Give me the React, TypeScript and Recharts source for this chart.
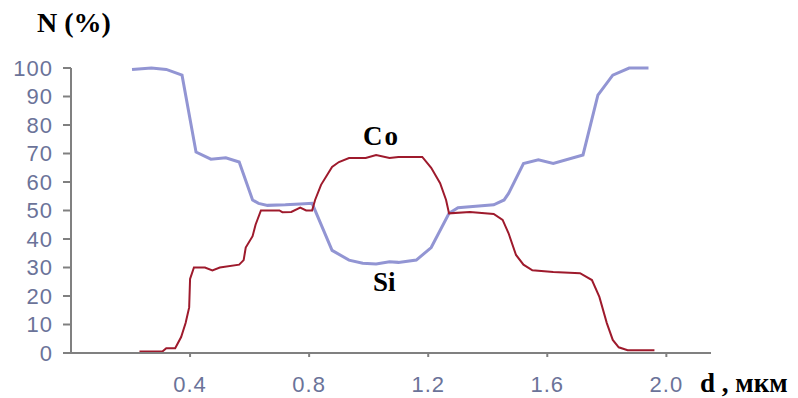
import * as React from 'react';
import { LineChart, Line, XAxis, YAxis } from 'recharts';

// Si profile (light blue)
const siDepth = [0.205, 0.27, 0.32, 0.373, 0.42, 0.47, 0.52, 0.565, 0.61, 0.63, 0.66, 0.72, 0.77, 0.81, 0.877, 0.934, 0.98, 1.025, 1.07, 1.1, 1.16, 1.21, 1.27, 1.3, 1.36, 1.42, 1.455, 1.47, 1.52, 1.57, 1.62, 1.72, 1.77, 1.82, 1.875, 1.94];
const siValues = [99.5, 100, 99.5, 97.5, 70.5, 68, 68.5, 67, 53.7, 52.5, 51.8, 52, 52.3, 52.5, 36, 32.6, 31.5, 31.2, 32, 31.8, 32.6, 37, 49, 51, 51.5, 52, 53.7, 56, 66.5, 67.8, 66.5, 69.5, 90.5, 97.5, 100, 100];

// Co profile (dark red)
const coDepth = [0.23, 0.307, 0.32, 0.35, 0.37, 0.385, 0.397, 0.4, 0.413, 0.45, 0.475, 0.5, 0.565, 0.58, 0.587, 0.61, 0.62, 0.638, 0.7, 0.71, 0.74, 0.77, 0.79, 0.81, 0.82, 0.84, 0.877, 0.9, 0.934, 0.99, 1.025, 1.07, 1.1, 1.18, 1.21, 1.24, 1.26, 1.27, 1.34, 1.42, 1.45, 1.47, 1.495, 1.52, 1.55, 1.62, 1.71, 1.75, 1.775, 1.8, 1.82, 1.84, 1.87, 1.96];
const coValues = [0.5, 0.5, 1.7, 1.7, 5.6, 10.5, 16, 26, 30, 30, 29, 30, 31, 32.6, 37, 41, 45, 50, 50, 49.4, 49.5, 51, 50, 50, 53.7, 59, 65.3, 67, 68.4, 68.4, 69.5, 68.4, 68.8, 68.8, 65, 59.6, 53.7, 49, 49.5, 48.8, 46.7, 42, 34.4, 31, 29, 28.4, 28, 25.6, 19.7, 10.5, 4.6, 2, 1, 1];

const xTicks = [0.4, 0.8, 1.2, 1.6, 2.0];
const yTicks = [0, 10, 20, 30, 40, 50, 60, 70, 80, 90, 100];

const siData = siDepth.map((d, i) => ({ d, v: siValues[i] }));
const coData = coDepth.map((d, i) => ({ d, v: coValues[i] }));

const serif: React.CSSProperties = {
	position: 'absolute',
	fontFamily: '"Liberation Serif", "Times New Roman", serif',
	fontWeight: 'bold',
	lineHeight: 1,
	color: '#000',
	whiteSpace: 'nowrap',
};

const tickStyle = { fill: '#6b7399', fontSize: 22, letterSpacing: 1, fontFamily: '"Liberation Sans", Arial, sans-serif' };

export default function App() {
	return (
		<div style={{ position: 'absolute', left: 0, top: 0, width: 798, height: 398, overflow: 'hidden', background: '#fff' }}>
			<LineChart width={798} height={398} margin={{ top: 68, right: 87, bottom: 0, left: 0 }}>
				<XAxis
					type='number'
					dataKey='d'
					domain={[0, 2.15]}
					ticks={xTicks}
					interval={0}
					tickFormatter={(v: number) => v.toFixed(1)}
					height={45}
					stroke='#808080'
					strokeWidth={2}
					tickSize={4}
					tickMargin={19}
					tick={tickStyle}
				/>
				<YAxis
					type='number'
					domain={[0, 100]}
					ticks={yTicks}
					interval={0}
					width={71}
					stroke='#808080'
					strokeWidth={2}
					tickSize={8}
					tickMargin={10}
					tick={tickStyle}
				/>
				<Line data={siData} dataKey='v' type='linear' stroke='#9295d3' strokeWidth={3} dot={false} activeDot={false} isAnimationActive={false} />
				<Line data={coData} dataKey='v' type='linear' stroke='#9e1a2c' strokeWidth={2} dot={false} activeDot={false} isAnimationActive={false} />
			</LineChart>
			<div style={{ ...serif, left: 37, top: 9, fontSize: 28 }}>N (%)</div>
			<div style={{ ...serif, left: 363, top: 123, fontSize: 27, letterSpacing: 2 }}>Co</div>
			<div style={{ ...serif, left: 373, top: 269, fontSize: 27 }}>Si</div>
			<div style={{ ...serif, left: 700, top: 370, fontSize: 27 }}>d , мкм</div>
		</div>
	);
}
